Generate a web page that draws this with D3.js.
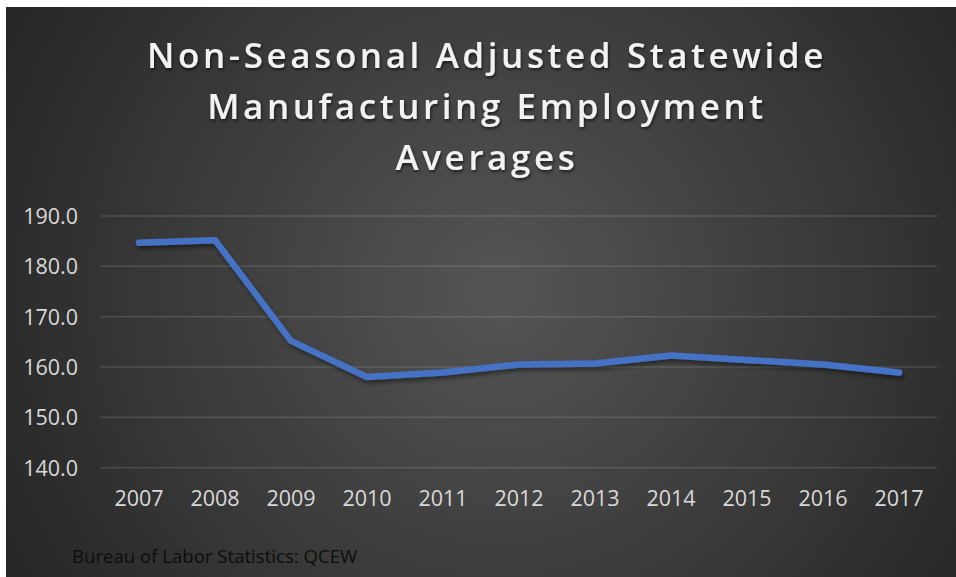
<!DOCTYPE html>
<html>
<head>
<meta charset="utf-8">
<script src="https://cdn.jsdelivr.net/npm/d3@7"></script>
<style>
  html, body { margin: 0; padding: 0; background: #ffffff; }
  svg { display: block; }
</style>
</head>
<body>
<svg id="chart" width="956" height="577"></svg>
<script>
// Annual average manufacturing employment (thousands)
const years = ["2007", "2008", "2009", "2010", "2011", "2012", "2013", "2014", "2015", "2016", "2017"];
const employment = [184.7, 185.2, 165.2, 158.0, 158.9, 160.5, 160.7, 162.3, 161.4, 160.5, 158.9];
const yTicks = [140, 150, 160, 170, 180, 190];
const titleLines = ["Non-Seasonal Adjusted Statewide", "Manufacturing Employment", "Averages"];
const sourceNote = "Bureau of Labor Statistics: QCEW";

const svg = d3.select("#chart");
const W = 956, H = 577;
const FONT = "'Open Sans', 'Noto Sans', sans-serif";

const defs = svg.append("defs");
const bg = defs.append("radialGradient")
  .attr("id", "bgGrad")
  .attr("gradientUnits", "userSpaceOnUse")
  .attr("cx", 500).attr("cy", 290).attr("r", 560);
bg.append("stop").attr("offset", "0%").attr("stop-color", "#555555");
bg.append("stop").attr("offset", "100%").attr("stop-color", "#262626");

const lineShadow = defs.append("filter").attr("id", "lineShadow")
  .attr("x", "-10%").attr("y", "-30%").attr("width", "120%").attr("height", "160%");
lineShadow.append("feDropShadow")
  .attr("dx", 1.5).attr("dy", 3).attr("stdDeviation", 2)
  .attr("flood-color", "#000").attr("flood-opacity", 0.45);

const titleShadow = defs.append("filter").attr("id", "titleShadow")
  .attr("x", "-5%").attr("y", "-20%").attr("width", "110%").attr("height", "150%");
titleShadow.append("feDropShadow")
  .attr("dx", 1).attr("dy", 2).attr("stdDeviation", 1.5)
  .attr("flood-color", "#000").attr("flood-opacity", 0.6);

// chart background panel
svg.append("rect")
  .attr("x", 6).attr("y", 7).attr("width", W - 6).attr("height", H - 7)
  .attr("fill", "url(#bgGrad)");

// scales
const plot = { left: 101, right: 937, top: 216, bottom: 467.7 };
const x = d3.scaleBand().domain(years).range([plot.left, plot.right]);
const y = d3.scaleLinear().domain([140, 190]).range([plot.bottom, plot.top]);

// horizontal gridlines
svg.append("g")
  .selectAll("line")
  .data(yTicks)
  .join("line")
  .attr("x1", plot.left).attr("x2", plot.right)
  .attr("y1", d => y(d)).attr("y2", d => y(d))
  .attr("stroke", "rgba(255,255,255,0.13)")
  .attr("stroke-width", 1.5);

// y axis labels
const yAxis = svg.append("g")
  .attr("transform", `translate(${plot.left - 23},0)`)
  .call(d3.axisLeft(y).tickValues(yTicks).tickFormat(d3.format(".1f")).tickSize(0).tickPadding(0));
yAxis.select(".domain").remove();
yAxis.selectAll("text")
  .attr("fill", "#d9d9d9")
  .attr("font-family", FONT)
  .attr("font-size", 21.5)
  .attr("dy", "0.35em");

// x axis labels
const xAxis = svg.append("g")
  .attr("transform", `translate(0,${plot.bottom})`)
  .call(d3.axisBottom(x).tickSize(0).tickPadding(0));
xAxis.select(".domain").remove();
xAxis.selectAll("text")
  .attr("fill", "#d9d9d9")
  .attr("font-family", FONT)
  .attr("font-size", 21.5)
  .attr("dy", 0)
  .attr("y", 38.5);

// series line
const line = d3.line()
  .x((d, i) => x(years[i]) + x.bandwidth() / 2)
  .y(d => y(d));

svg.append("path")
  .datum(employment)
  .attr("d", line)
  .attr("fill", "none")
  .attr("stroke", "#4472C4")
  .attr("stroke-width", 6.5)
  .attr("stroke-linecap", "round")
  .attr("stroke-linejoin", "round")
  .attr("filter", "url(#lineShadow)");

// title
const title = svg.append("text")
  .attr("text-anchor", "middle")
  .attr("fill", "#f2f2f2")
  .attr("font-family", FONT)
  .attr("font-weight", 600)
  .attr("font-size", 35)
  .attr("letter-spacing", 3.6)
  .attr("filter", "url(#titleShadow)");
title.selectAll("tspan")
  .data(titleLines)
  .join("tspan")
  .attr("x", 487)
  .attr("y", (d, i) => 68 + i * 51)
  .text(d => d);

// source note
svg.append("text")
  .attr("x", 72).attr("y", 563)
  .attr("fill", "#0d0d0d")
  .attr("font-family", FONT)
  .attr("font-size", 18.6)
  .text(sourceNote);
</script>
</body>
</html>
